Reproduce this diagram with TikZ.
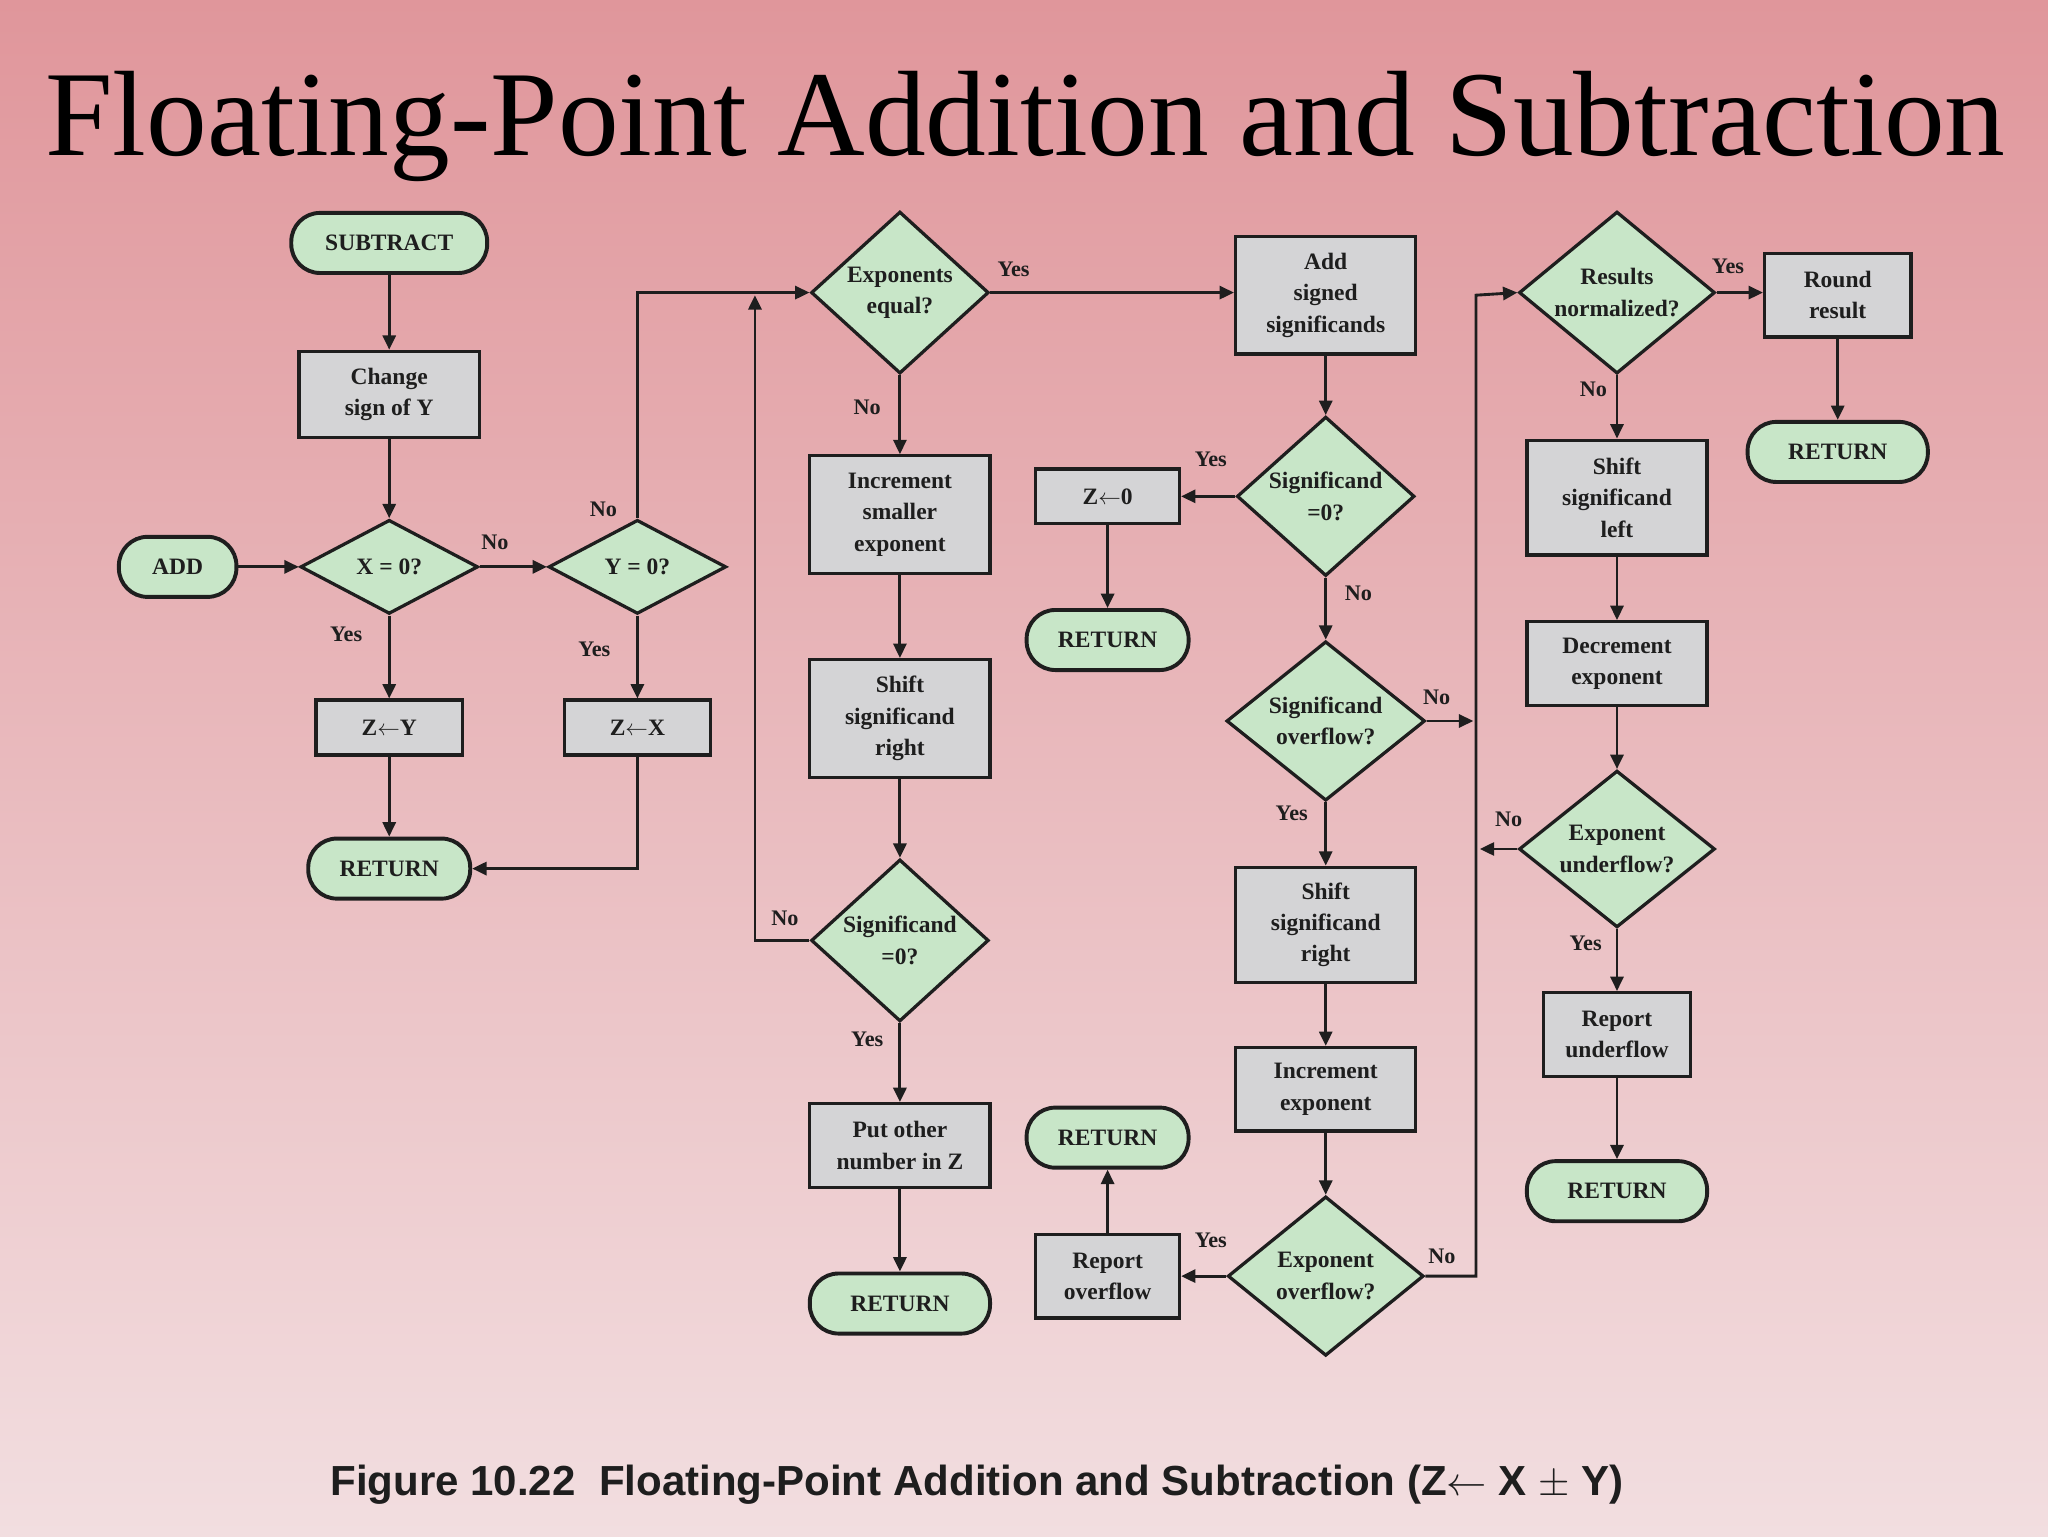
\documentclass[tikz,border=0pt]{standalone}
\usepackage{fontspec}
\setmainfont{Liberation Serif}
\newfontfamily\capfont{Liberation Sans}
\usetikzlibrary{shapes.geometric,arrows.meta}
\definecolor{gfill}{RGB}{200,230,200}
\definecolor{bfill}{RGB}{212,212,214}
\definecolor{ink}{RGB}{30,30,30}
\tikzset{
 every node/.style={font=\bfseries\fontsize{18}{24}\selectfont, text=ink, align=center},
 term/.style={draw=ink, line width=3pt, fill=gfill, rounded corners=22pt, minimum height=46pt, inner sep=0pt},
 box/.style={draw=ink, line width=2.5pt, fill=bfill, inner sep=0pt},
 dia/.style={draw=ink, line width=2.5pt, fill=gfill, diamond, inner sep=0pt},
 dt/.style={inner sep=0pt},
 lab/.style={font=\bfseries\fontsize{17}{20}\selectfont, inner sep=0pt},
 arr/.style={draw=ink, line width=2.2pt, -{Triangle[length=11pt,width=10pt]}},
}
\newcommand{\dnode}[6]{\node[dia, minimum width=#4pt, minimum height=#5pt] (#1) at (#2,#3) {};\node[dt] at (#1) {#6};}
\begin{document}
\begin{tikzpicture}[x=1pt,y=-1pt]
\shade[top color={rgb,255:red,224;green,150;blue,155}, bottom color={rgb,255:red,242;green,222;blue,224}] (0,0) rectangle (1568,1176);
\useasboundingbox (0,0) rectangle (1568,1176);
% title
\node[text=black] (title) at (785,97) {\resizebox{1500pt}{!}{\mdseries Floating-Point Addition and Subtraction}};
\node (cap) at (748,1137) {\resizebox{990pt}{!}{\capfont\bfseries Figure 10.22\ \ Floating-Point Addition and Subtraction (Z$\leftarrow$ X $\pm$ Y)}};
% column 1
\node[term, minimum width=150pt] (sub) at (298,186) {SUBTRACT};
\node[box, minimum width=138pt, minimum height=66pt] (chg) at (298,302) {Change\\sign of Y};
\node[term, minimum width=90pt] (add) at (136,434) {ADD};
\dnode{x0}{298}{434}{136}{72}{X = 0?}
\dnode{y0}{488}{434}{136}{72}{Y = 0?}
\node[box, minimum width=112pt, minimum height=42pt] (zy) at (298,557) {Z$\leftarrow$Y};
\node[box, minimum width=112pt, minimum height=42pt] (zx) at (488,557) {Z$\leftarrow$X};
\node[term, minimum width=124pt] (r1) at (298,665) {RETURN};
% column 2
\dnode{ee}{689}{224}{136}{124}{Exponents\\equal?}
\node[box, minimum width=138pt, minimum height=90pt] (inc) at (689,394) {Increment\\smaller\\exponent};
\node[box, minimum width=138pt, minimum height=90pt] (shr) at (689,550) {Shift\\significand\\right};
\dnode{sa}{689}{720}{136}{124}{Significand\\=0?}
\node[box, minimum width=138pt, minimum height=64pt] (put) at (689,877) {Put other\\number in Z};
\node[term, minimum width=138pt] (r2) at (689,998) {RETURN};
% column 3
\node[box, minimum width=138pt, minimum height=90pt] (ads) at (1015,226) {Add\\signed\\significands};
\dnode{sb}{1015}{380}{136}{122}{Significand\\=0?}
\node[box, minimum width=110pt, minimum height=42pt] (z0) at (848,380) {Z$\leftarrow$0};
\node[term, minimum width=124pt] (r3) at (848,490) {RETURN};
\dnode{sov}{1015}{552}{152}{122}{Significand\\overflow?}
\node[box, minimum width=138pt, minimum height=88pt] (shr2) at (1015,708) {Shift\\significand\\right};
\node[box, minimum width=138pt, minimum height=64pt] (ince) at (1015,834) {Increment\\exponent};
\dnode{eov}{1015}{977}{150}{122}{Exponent\\overflow?}
\node[box, minimum width=110pt, minimum height=64pt] (rov) at (848,977) {Report\\overflow};
\node[term, minimum width=124pt] (r4) at (848,871) {RETURN};
% column 4
\dnode{rn}{1238}{224}{150}{124}{Results\\normalized?}
\node[box, minimum width=112pt, minimum height=64pt] (rr) at (1407,226) {Round\\result};
\node[term, minimum width=138pt] (r5) at (1407,346) {RETURN};
\node[box, minimum width=138pt, minimum height=88pt] (shl) at (1238,381) {Shift\\significand\\left};
\node[box, minimum width=138pt, minimum height=64pt] (dec) at (1238,508) {Decrement\\exponent};
\dnode{euf}{1238}{650}{150}{120}{Exponent\\underflow?}
\node[box, minimum width=112pt, minimum height=64pt] (ruf) at (1238,792) {Report\\underflow};
\node[term, minimum width=138pt] (r6) at (1238,912) {RETURN};
% junctions
\coordinate (j1) at (578,226);
\coordinate (j2) at (1128,552);
\coordinate (k1) at (1130,226);
\coordinate (j3) at (1133,650);
% connectors
\draw[arr] (sub) -- (chg);
\draw[arr] (chg) -- (x0.north);
\draw[arr] (add) -- (x0.west);
\draw[arr] (x0.east) -- (y0.west);
\draw[arr] (x0.south) -- (zy);
\draw[arr] (y0.south) -- (zx);
\draw[arr] (zy) -- (r1);
\draw[arr] (zx.south) |- (r1.east);
\draw[arr] (y0.north) |- (ee.west);
\draw[arr] (sa.west) -| (j1);
\draw[arr] (ee.south) -- (inc);
\draw[arr] (ee.east) -- (ads.west |- ee.east);
\draw[arr] (inc) -- (shr);
\draw[arr] (shr) -- (sa.north);
\draw[arr] (sa.south) -- (put);
\draw[arr] (put) -- (r2);
\draw[arr] (ads) -- (sb.north);
\draw[arr] (sb.west) -- (z0);
\draw[arr] (z0) -- (r3);
\draw[arr] (sb.south) -- (sov.north);
\draw[arr] (sov.east) -- (j2);
\draw[arr] (sov.south) -- (shr2);
\draw[arr] (shr2) -- (ince);
\draw[arr] (ince) -- (eov.north);
\draw[arr] (eov.west) -- (rov);
\draw[arr] (rov) -- (r4);
\draw[arr] (eov.east) -| (k1) -- (rn.west);
\draw[arr] (rn.east) -- (rr.west |- rn.east);
\draw[arr] (rr) -- (r5);
\draw[arr] (rn.south) -- (shl);
\draw[arr] (shl) -- (dec);
\draw[arr] (dec) -- (euf.north);
\draw[arr] (euf.west) -- (j3);
\draw[arr] (euf.south) -- (ruf);
\draw[arr] (ruf) -- (r6);
% labels
\node[lab] at (379,415) {No};
\node[lab] at (265,486) {Yes};
\node[lab] at (455,497) {Yes};
\node[lab] at (462,390) {No};
\node[lab] at (601,703) {No};
\node[lab] at (664,312) {No};
\node[lab] at (776,206) {Yes};
\node[lab] at (664,796) {Yes};
\node[lab] at (927,352) {Yes};
\node[lab] at (1040,454) {No};
\node[lab] at (1100,534) {No};
\node[lab] at (989,623) {Yes};
\node[lab] at (927,950) {Yes};
\node[lab] at (1104,962) {No};
\node[lab] at (1323,204) {Yes};
\node[lab] at (1220,298) {No};
\node[lab] at (1155,627) {No};
\node[lab] at (1214,722) {Yes};
\end{tikzpicture}
\end{document}
